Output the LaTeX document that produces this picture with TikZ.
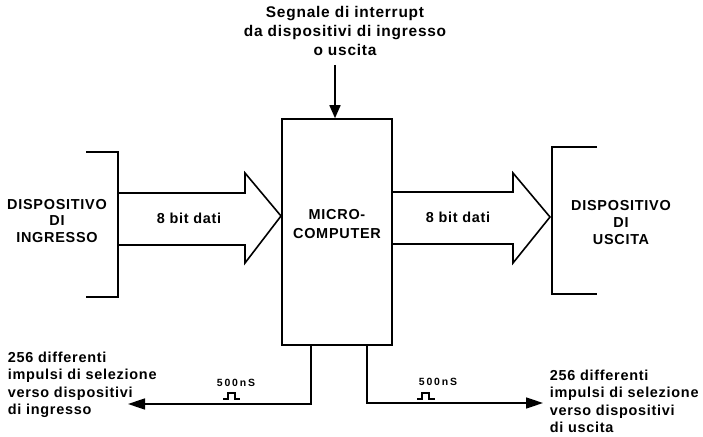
\documentclass[tikz,border=0pt]{standalone}
\usepackage{fontspec}
\setmainfont{Liberation Sans}[LetterSpace=5]
\newfontfamily\pulsefont{Liberation Sans}[LetterSpace=18]
\usetikzlibrary{arrows.meta,calc}
\begin{document}
\begin{tikzpicture}[x=1bp,y=-1bp,
  line width=1.6bp,
  lbl/.style={font=\bfseries\fontsize{14.5}{17}\selectfont,inner sep=0pt,align=center},
  toplbl/.style={font=\bfseries\fontsize{15.5}{19}\selectfont,inner sep=0pt,align=center},
  buslbl/.style={font=\bfseries\fontsize{14.5}{17}\selectfont,inner sep=0pt},
  side/.style={font=\bfseries\fontsize{14.5}{17.5}\selectfont,inner sep=0pt,align=left},
  plbl/.style={font=\pulsefont\bfseries\fontsize{10.5}{12}\selectfont,inner sep=0pt},
  pulse/.style={line width=1.2bp},
  tip/.style={-{Triangle[length=17bp,width=11bp]}},
  toptip/.style={-{Triangle[length=13bp,width=11bp]}}]
\useasboundingbox (0,0) rectangle (703,437);
% microcomputer box
\node[draw,minimum width=110bp,minimum height=226bp,inner sep=0pt] (mc) at (337,232) {};
\node[lbl,font=\bfseries\fontsize{14.5}{20}\selectfont] (mctext) at (337,224) {MICRO-\\COMPUTER};
% top interrupt
\node[toplbl] (intr) at (345,31) {Segnale di interrupt\\da dispositivi di ingresso\\o uscita};
\coordinate (intrs) at (335,65);
\draw[toptip] (intrs) -- (intrs |- mc.north);
% left bracket
\draw (86,152) -- (118,152) -- (118,297) -- (86,297);
\node[lbl] (indev) at (57,221) {DISPOSITIVO\\DI\\INGRESSO};
% left bus arrow
\draw (118,193) -- (245,193) -- (245,173) -- (281,216) -- (245,263) -- (245,245) -- (118,245);
\node[buslbl] (inbus) at (189,218) {8 bit dati};
% right bus arrow
\draw (mc.east |- 0,192) -- (513,192) -- (513,173) -- (550,217) -- (513,263) -- (513,244) -- (mc.east |- 0,244);
\node[buslbl] (outbus) at (458,217) {8 bit dati};
% right bracket
\draw (597,147) -- (552,147) -- (552,294) -- (597,294);
\node[lbl] (outdev) at (621,222.5) {DISPOSITIVO\\DI\\USCITA};
% select pulses
\coordinate (ls) at (311,0);
\coordinate (rs) at (367,0);
\coordinate (lend) at (128,404);
\coordinate (rend) at (543,403);
\draw[tip] (ls |- mc.south) -- (ls |- lend) -- (lend);
\draw[tip] (rs |- mc.south) -- (rs |- rend) -- (rend);
\node[plbl] (lp) at (236,383) {500nS};
\node[plbl] (rp) at (438,382) {500nS};
\draw[pulse] (223,399) -- (228,399) -- (228,393) -- (235,393) -- (235,399) -- (240,399);
\draw[pulse] (417,399) -- (422,399) -- (422,393) -- (429,393) -- (429,399) -- (435,399);
\node[side,anchor=north west] (ltext) at (7,351) {256 differenti\\impulsi di selezione\\verso dispositivi\\di ingresso};
\node[side,anchor=north west] (rtext) at (549,369) {256 differenti\\impulsi di selezione\\verso dispositivi\\di uscita};
\end{tikzpicture}
\end{document}
